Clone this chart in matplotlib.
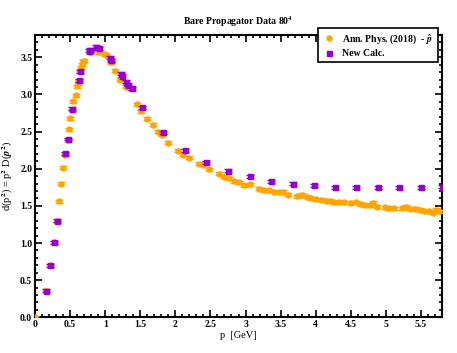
import matplotlib
matplotlib.use("Agg")
import matplotlib.pyplot as plt
from matplotlib.lines import Line2D
from matplotlib.ticker import MultipleLocator, FormatStrFormatter

# Ann. Phys. (2018) data
orange_p = [0.0, 0.157, 0.214, 0.267, 0.31, 0.348, 0.376, 0.405, 0.433, 0.467,
            0.486, 0.505, 0.529, 0.548, 0.581, 0.595, 0.61, 0.624, 0.643, 0.657,
            0.671, 0.69, 0.70, 0.78, 0.80, 0.87, 0.905, 1.0, 1.01, 1.076, 1.086,
            1.14, 1.214, 1.29, 1.31, 1.34, 1.45, 1.51, 1.6, 1.68, 1.75, 1.81,
            1.89, 2.04, 2.11, 2.19, 2.33, 2.40, 2.48, 2.62, 2.69, 2.77, 2.84,
            2.91, 2.98, 3.06, 3.19, 3.26, 3.33, 3.40, 3.47, 3.53, 3.60, 3.74,
            3.80, 3.87, 3.94, 4.0, 4.07, 4.14, 4.20, 4.26, 4.33, 4.40, 4.51,
            4.57, 4.64, 4.70, 4.78, 4.82, 4.88, 4.99, 5.05, 5.11, 5.23, 5.29,
            5.35, 5.42, 5.49, 5.56, 5.61, 5.67, 5.71, 5.76]
orange_d = [0.0, 0.36, 0.70, 1.01, 1.29, 1.56, 1.80, 2.01, 2.19, 2.38,
            2.53, 2.68, 2.79, 2.91, 2.99, 3.11, 3.15, 3.18, 3.31, 3.36,
            3.40, 3.44, 3.45, 3.57, 3.58, 3.61, 3.57, 3.54, 3.53, 3.45, 3.43,
            3.32, 3.20, 3.10, 3.12, 3.09, 2.87, 2.77, 2.67, 2.59, 2.50, 2.46,
            2.35, 2.24, 2.19, 2.15, 2.07, 2.05, 1.99, 1.93, 1.89, 1.87, 1.83,
            1.82, 1.78, 1.79, 1.73, 1.71, 1.71, 1.69, 1.68, 1.69, 1.65, 1.63,
            1.65, 1.62, 1.60, 1.59, 1.58, 1.57, 1.57, 1.55, 1.55, 1.55, 1.54,
            1.55, 1.52, 1.51, 1.51, 1.54, 1.49, 1.48, 1.47, 1.47, 1.47, 1.49,
            1.46, 1.46, 1.45, 1.43, 1.43, 1.41, 1.45, 1.43]

# New calculation
purple_p = [0.157, 0.214, 0.267, 0.31, 0.433, 0.467, 0.529, 0.624, 0.643,
            0.767, 0.79, 0.871, 0.919, 1.07, 1.086, 1.22, 1.24, 1.30, 1.33,
            1.376, 1.53, 1.83, 2.14, 2.44, 2.75, 3.06, 3.36, 3.67, 3.98, 4.28,
            4.58, 4.89, 5.19, 5.50, 5.80]
purple_d = [0.36, 0.70, 1.01, 1.30, 2.21, 2.40, 2.81, 3.19, 3.31,
            3.59, 3.60, 3.64, 3.62, 3.49, 3.46, 3.28, 3.25, 3.17, 3.13,
            3.08, 2.83, 2.49, 2.25, 2.09, 1.97, 1.90, 1.83, 1.80, 1.78, 1.75,
            1.75, 1.75, 1.75, 1.75, 1.76]

x_ticks = [0, 0.5, 1, 1.5, 2, 2.5, 3, 3.5, 4, 4.5, 5, 5.5]
x_ticklabels = ["0", "0.5", "1", "1.5", "2", "2.5", "3", "3.5", "4", "4.5", "5", "5.5"]

plt.rcParams["font.family"] = ["Liberation Serif", "DejaVu Serif"]
plt.rcParams["font.weight"] = "bold"
plt.rcParams["mathtext.fontset"] = "stix"

fig = plt.figure(figsize=(4.57, 3.53), dpi=100)
ax = fig.add_axes([0.0766, 0.101, 0.8906, 0.800])

orange = "#ffa500"
purple = "#9400d3"
ax.errorbar(orange_p, orange_d, yerr=0.02, fmt="o", color=orange, ms=3.6,
            mec=orange, ecolor=orange, elinewidth=1, capsize=2.8, capthick=1,
            zorder=3)
ax.errorbar(purple_p, purple_d, yerr=0.02, fmt="s", color=purple, ms=3.6,
            mec=purple, ecolor=purple, elinewidth=1, capsize=2.8, capthick=1,
            zorder=4)

ax.set_xlim(0, 5.8)
ax.set_ylim(0, 3.8)
ax.set_xticks(x_ticks)
ax.set_xticklabels(x_ticklabels)
ax.xaxis.set_minor_locator(MultipleLocator(0.1))
ax.yaxis.set_major_locator(MultipleLocator(0.5))
ax.yaxis.set_minor_locator(MultipleLocator(0.1))
ax.yaxis.set_major_formatter(FormatStrFormatter("%.1f"))
ax.tick_params(which="both", direction="in", top=True, right=True,
               labelsize=7, width=1.2, pad=2)
ax.tick_params(which="major", length=5)
ax.tick_params(which="minor", length=2.5)
for s in ax.spines.values():
    s.set_linewidth(1.5)

ax.set_title("Bare Propagator Data 80$^4$", fontsize=7, fontweight="bold", pad=7)
ax.set_xlabel("p  [GeV]", fontsize=7.5, labelpad=1)
ax.set_ylabel("d(p$^2$) = p$^2$ D($p^2$)", fontsize=7.5, labelpad=4)

handles = [
    Line2D([], [], ls="none", marker="o", ms=3.6, color=orange),
    Line2D([], [], ls="none", marker="s", ms=3.6, color=purple),
]
labels = ["Ann. Phys. (2018)  - $\\hat{p}$", "New Calc."]
leg = ax.legend(handles, labels, loc="upper right",
                bbox_to_anchor=(437.5 / 457, 1 - 28 / 353),
                bbox_transform=fig.transFigure, fontsize=7, frameon=True,
                fancybox=False, framealpha=1, edgecolor="black",
                borderpad=0.45, handlelength=1.4, handletextpad=0.7,
                labelspacing=0.3, borderaxespad=0)
leg.get_frame().set_linewidth(1.2)
leg.set_zorder(10)

fig.savefig("out.png", dpi=100)
